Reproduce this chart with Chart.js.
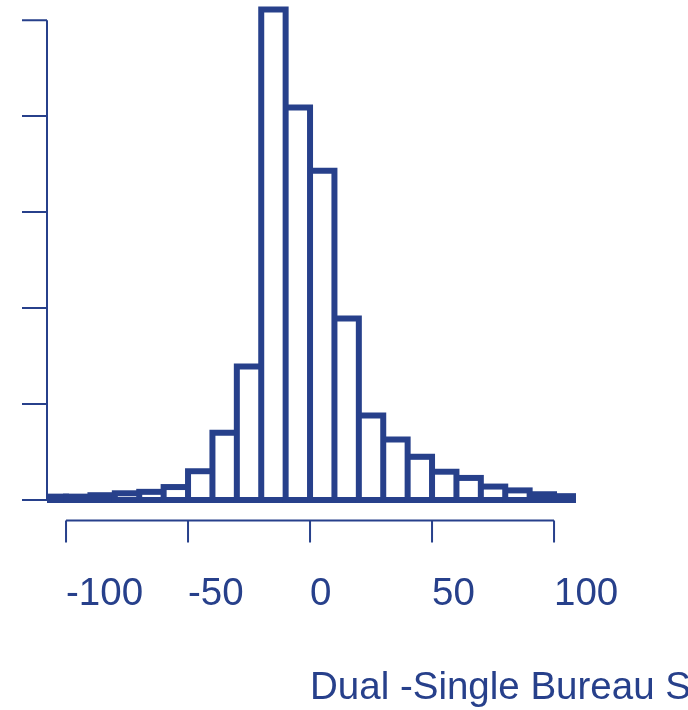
<!DOCTYPE html>
<html>
<head>
<meta charset="utf-8">
<title>Dual - Single Bureau Score</title>
<script src="https://cdn.jsdelivr.net/npm/chart.js@4.4.1/dist/chart.umd.min.js"></script>
<style>
  html, body { margin: 0; padding: 0; background: #fff; }
  #wrap { width: 688px; height: 710px; position: relative; }
</style>
</head>
<body>
<div id="wrap"><canvas id="histChart"></canvas></div>
<script>
// Histogram of score differences, 10-point bins
const binCenters = [-105, -95, -85, -75, -65, -55, -45, -35, -25, -15, -5, 5, 15, 25, 35, 45, 55, 65, 75, 85, 95, 105];
const binCounts = [3.5, 3.5, 5, 7, 8.5, 13.5, 30, 70, 139, 511, 409, 343, 189, 88, 63, 45, 29.5, 23, 14, 10, 6, 4];
const xTicks = [-100, -50, 0, 50, 100];
const yTicks = [0, 100, 200, 300, 400, 500];
const xTitle = 'Dual -Single Bureau Score';

const NAVY = '#27408B';
const HALF_STROKE = 3; // outline is 6px, centred on the bin edges
const FONT = '"Liberation Sans", Arial, Helvetica, sans-serif';
const FONT_SIZE = 38.5;

const points = binCenters.map((x, i) => ({ x, y: binCounts[i] }));

// Base-graphics style axes: line only between first and last tick, ticks pointing out
const plainAxes = {
  id: 'plainAxes',
  afterDatasetsDraw(chart) {
    const { ctx, chartArea, scales: { x, y } } = chart;
    ctx.save();
    ctx.strokeStyle = NAVY;
    ctx.lineWidth = 2;

    ctx.beginPath();
    const ax = chartArea.left;
    ctx.moveTo(ax, y.getPixelForValue(yTicks[0]));
    ctx.lineTo(ax, y.getPixelForValue(yTicks[yTicks.length - 1]));
    yTicks.forEach(v => {
      const py = y.getPixelForValue(v);
      ctx.moveTo(ax, py);
      ctx.lineTo(ax - 25, py);
    });

    const ay = chartArea.bottom + 20.5;
    ctx.moveTo(x.getPixelForValue(xTicks[0]), ay);
    ctx.lineTo(x.getPixelForValue(xTicks[xTicks.length - 1]), ay);
    xTicks.forEach(v => {
      const px = x.getPixelForValue(v);
      ctx.moveTo(px, ay);
      ctx.lineTo(px, ay + 22);
    });
    ctx.stroke();

    // axis title runs off the right edge
    ctx.fillStyle = NAVY;
    ctx.font = FONT_SIZE + 'px ' + FONT;
    ctx.textAlign = 'left';
    ctx.textBaseline = 'alphabetic';
    ctx.fillText(xTitle, 310, 699);
    ctx.restore();
  }
};

const barCommon = {
  grouped: false,
  barPercentage: 1,
  categoryPercentage: 1,
  borderWidth: 0,
  clip: { left: 0, right: 0, top: false, bottom: false }
};

new Chart(document.getElementById('histChart'), {
  type: 'bar',
  data: {
    datasets: [
      {
        // white interior, shrunk inside the outline
        ...barCommon,
        data: points,
        order: 0,
        inflateAmount: -HALF_STROKE,
        backgroundColor: (c) => {
          if (!c.parsed) return '#ffffff';
          const ys = c.chart.scales.y;
          const h = ys.getPixelForValue(0) - ys.getPixelForValue(c.parsed.y);
          return h > 2 * HALF_STROKE ? '#ffffff' : 'rgba(255,255,255,0)';
        }
      },
      {
        // solid outline layer, grown past the bin edges
        ...barCommon,
        data: points,
        order: 1,
        inflateAmount: HALF_STROKE,
        backgroundColor: NAVY
      }
    ]
  },
  options: {
    responsive: true,
    maintainAspectRatio: false,
    animation: false,
    layout: { autoPadding: false, padding: { left: 47, right: 112, top: 0, bottom: 0 } },
    plugins: {
      legend: { display: false },
      tooltip: { enabled: false },
      title: { display: false }
    },
    scales: {
      x: {
        type: 'linear',
        min: -107.8,
        max: 109,
        offset: false,
        grid: { display: false, drawTicks: false },
        border: { display: false },
        afterBuildTicks: (s) => { s.ticks = xTicks.map(v => ({ value: v })); },
        afterFit: (s) => {
          s.height = 210;
          s.paddingLeft = 0;
          s.paddingRight = 0;
        },
        ticks: {
          align: 'start',
          padding: 71,
          color: NAVY,
          autoSkip: false,
          maxRotation: 0,
          font: { family: FONT, size: FONT_SIZE },
          callback: (v) => String(v)
        }
      },
      y: {
        display: false,
        min: 0,
        max: 521
      }
    }
  },
  plugins: [plainAxes]
});
</script>
</body>
</html>
